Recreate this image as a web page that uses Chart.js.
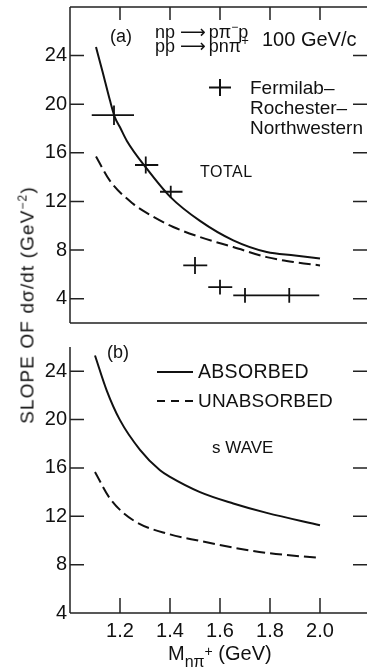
<!DOCTYPE html>
<html><head><meta charset="utf-8">
<script src="https://cdn.jsdelivr.net/npm/chart.js@4.4.1/dist/chart.umd.min.js"></script>
<style>
html,body{margin:0;padding:0;background:#fff;overflow:hidden;width:367px;height:672px;}
#wrap{position:relative;width:367px;height:672px;overflow:hidden;font-family:"Liberation Sans","DejaVu Sans",sans-serif;color:#111;}
.c{position:absolute;left:0;width:370px;}
.t{position:absolute;white-space:nowrap;line-height:1;}
.up{position:relative;}
svg{position:absolute;overflow:visible;}
</style></head><body><div id="wrap">
<div class="c" style="top:0;height:335px"><canvas id="ca" width="370" height="335"></canvas></div>
<div class="c" style="top:335px;height:337px"><canvas id="cb" width="370" height="337"></canvas></div>

<div class="t" style="left:110px;top:27px;font-size:18px;">(a)</div>
<div class="t" style="left:155px;top:23px;font-size:18px;">np <span style="letter-spacing:-2px">⟶</span> pπ<span class="up" style="font-size:12px;top:-7px">−</span>p</div>
<div class="t" style="left:155px;top:37px;font-size:18px;">pp <span style="letter-spacing:-2px">⟶</span> pnπ<span class="up" style="font-size:13px;top:-7px">+</span></div>
<div class="t" style="left:262px;top:29px;font-size:20px;">100 GeV/c</div>
<svg style="left:209px;top:79px" width="22" height="17"><line x1="0" y1="8.5" x2="22" y2="8.5" stroke="#111" stroke-width="2"/><line x1="11" y1="0" x2="11" y2="17" stroke="#111" stroke-width="2"/></svg>
<div class="t" style="left:250px;top:78px;font-size:19px;">Fermilab–</div>
<div class="t" style="left:250px;top:98px;font-size:19px;">Rochester–</div>
<div class="t" style="left:250px;top:118px;font-size:19px;">Northwestern</div>
<div class="t" style="left:200px;top:164px;font-size:16px;letter-spacing:0.5px;">TOTAL</div>

<div class="t" style="left:107px;top:343px;font-size:18px;">(b)</div>
<svg style="left:157px;top:372px" width="36" height="2"><line x1="0" y1="0" x2="36" y2="0" stroke="#111" stroke-width="2"/></svg>
<div class="t" style="left:198px;top:362px;font-size:19.5px;letter-spacing:0.3px;">ABSORBED</div>
<svg style="left:157px;top:401px" width="36" height="2"><line x1="0" y1="0" x2="36" y2="0" stroke="#111" stroke-width="2" stroke-dasharray="8,6"/></svg>
<div class="t" style="left:198px;top:391px;font-size:19px;letter-spacing:0.2px;">UNABSORBED</div>
<div class="t" style="left:212px;top:439px;font-size:17px;">s WAVE</div>

<div class="t" style="left:27px;top:305px;font-size:19px;letter-spacing:1.1px;transform:translate(-50%,-50%) rotate(-90deg);">SLOPE OF dσ/dt (GeV<span class="up" style="font-size:12px;top:-7px">−2</span>)</div>
<div class="t" style="left:168px;top:643px;font-size:20px;">M<span class="up" style="font-size:16px;top:7px;">nπ</span><span class="up" style="font-size:14px;top:-4px;">+</span> (GeV)</div>
</div>
<script>
const xTicks = [1.2, 1.4, 1.6, 1.8, 2.0];
const yTicksA = [4, 8, 12, 16, 20, 24];
const yTicksB = [4, 8, 12, 16, 20, 24];

// panel (a) TOTAL
const totalAbsM = [1.104, 1.13, 1.16, 1.18, 1.2, 1.227, 1.307, 1.40, 1.52, 1.653, 1.787, 1.90, 2.0];
const totalAbsSlope = [24.7, 22.7, 20.3, 18.9, 18.1, 17.0, 14.7, 12.4, 10.4, 8.8, 7.84, 7.56, 7.3];
const totalUnabsM = [1.104, 1.16, 1.253, 1.32, 1.413, 1.52, 1.653, 1.787, 1.90, 2.0];
const totalUnabsSlope = [15.7, 13.7, 11.8, 10.9, 9.9, 9.07, 8.25, 7.42, 7.0, 6.74];

// Fermilab-Rochester-Northwestern data
const dataM = [1.176, 1.303, 1.403, 1.50, 1.60, 1.70, 1.877];
const dataSlope = [19.1, 15.0, 12.8, 6.74, 4.95, 4.27, 4.27];
const dataMLo = [1.087, 1.26, 1.36, 1.453, 1.553, 1.653, 1.747];
const dataMHi = [1.256, 1.353, 1.45, 1.549, 1.649, 1.747, 1.997];
const dataErr = [0.8, 0.7, 0.5, 0.7, 0.6, 0.6, 0.6];

// panel (b) s WAVE
const sAbsM = [1.1, 1.147, 1.2, 1.28, 1.36, 1.4, 1.52, 1.653, 1.787, 2.0];
const sAbsSlope = [25.3, 22.4, 19.95, 17.5, 15.8, 15.26, 14.0, 13.06, 12.28, 11.26];
const sUnabsM = [1.1, 1.16, 1.253, 1.4, 1.52, 1.653, 1.787, 2.0];
const sUnabsSlope = [15.67, 13.47, 11.67, 10.5, 9.96, 9.41, 8.97, 8.55];

const FONT = '"Liberation Sans","DejaVu Sans",sans-serif';
const INK = '#111';
const pts = (xs, ys) => xs.map((x, i) => ({x, y: ys[i]}));

function lineDs(xs, ys, dashed) {
  return {data: pts(xs, ys), borderColor: INK, borderWidth: 2, pointRadius: 0,
    cubicInterpolationMode: 'monotone', borderDash: dashed ? [12, 5] : [], fill: false};
}

function frame(opts) {
  return {
    id: 'frame' + opts.id,
    afterDraw(chart) {
      const ctx = chart.ctx, a = chart.chartArea, xs = chart.scales.x, ys = chart.scales.y;
      const T = 14;
      ctx.save();
      ctx.strokeStyle = '#222'; ctx.lineWidth = 1.5; ctx.lineCap = 'butt';
      ctx.beginPath();
      ctx.moveTo(a.left, a.top); ctx.lineTo(a.left, a.bottom);
      ctx.moveTo(a.left, a.bottom); ctx.lineTo(a.right, a.bottom);
      if (opts.top) { ctx.moveTo(a.left, a.top); ctx.lineTo(a.right, a.top); }
      opts.yt.forEach(v => {
        const y = ys.getPixelForValue(v);
        if (y < a.bottom - 2) { ctx.moveTo(a.left, y); ctx.lineTo(a.left + T, y); }
        if (y < a.bottom - 2) { ctx.moveTo(a.right - 3 - T, y); ctx.lineTo(a.right - 3, y); }
      });
      xTicks.forEach(v => {
        const x = xs.getPixelForValue(v);
        if (opts.top) { ctx.moveTo(x, a.top); ctx.lineTo(x, a.top + 13); }
        if (opts.bottom) { ctx.moveTo(x, a.bottom); ctx.lineTo(x, a.bottom - 15); }
      });
      ctx.stroke();
      ctx.restore();
    }
  };
}

const crosses = {
  id: 'crosses',
  afterDatasetsDraw(chart) {
    const ctx = chart.ctx, xs = chart.scales.x, ys = chart.scales.y;
    ctx.save();
    ctx.strokeStyle = INK; ctx.lineWidth = 1.8;
    ctx.beginPath();
    dataM.forEach((m, i) => {
      const y = ys.getPixelForValue(dataSlope[i]);
      const x = xs.getPixelForValue(m);
      ctx.moveTo(xs.getPixelForValue(dataMLo[i]), y);
      ctx.lineTo(xs.getPixelForValue(dataMHi[i]), y);
      ctx.moveTo(x, ys.getPixelForValue(dataSlope[i] + dataErr[i]));
      ctx.lineTo(x, ys.getPixelForValue(dataSlope[i] - dataErr[i]));
    });
    ctx.stroke();
    ctx.restore();
  }
};

function yScale(min, max, ticks) {
  return {
    type: 'linear', min, max,
    afterBuildTicks: s => { s.ticks = ticks.map(v => ({value: v})); },
    afterFit: s => { s.width = 70; s.paddingTop = 0; s.paddingBottom = 0; },
    grid: {display: false, drawTicks: false},
    border: {display: false},
    ticks: {color: INK, padding: 3, font: {family: FONT, size: 20}}
  };
}

new Chart(document.getElementById('ca'), {
  type: 'line',
  data: {datasets: [lineDs(totalAbsM, totalAbsSlope, false), lineDs(totalUnabsM, totalUnabsSlope, true)]},
  options: {
    responsive: false, animation: false,
    layout: {padding: {top: 7, bottom: 12, left: 0, right: 0}},
    plugins: {legend: {display: false}, tooltip: {enabled: false}},
    scales: {
      x: {type: 'linear', min: 1.0, max: 2.2, display: false},
      y: yScale(2, 28, yTicksA)
    }
  },
  plugins: [frame({id: 'a', top: true, bottom: false, yt: yTicksA}), crosses]
});

new Chart(document.getElementById('cb'), {
  type: 'line',
  data: {datasets: [lineDs(sAbsM, sAbsSlope, false), lineDs(sUnabsM, sUnabsSlope, true)]},
  options: {
    responsive: false, animation: false,
    layout: {padding: {top: 12, bottom: 0, left: 0, right: 0}},
    plugins: {legend: {display: false}, tooltip: {enabled: false}},
    scales: {
      x: {type: 'linear', min: 1.0, max: 2.2,
        afterBuildTicks: s => { s.ticks = xTicks.map(v => ({value: v})); },
        afterFit: s => { s.height = 59; s.paddingLeft = 0; s.paddingRight = 0; },
        grid: {display: false, drawTicks: false},
        border: {display: false},
        ticks: {color: INK, padding: 6, maxRotation: 0, font: {family: FONT, size: 20},
          callback: v => v.toFixed(1)}
      },
      y: yScale(4, 26, yTicksB)
    }
  },
  plugins: [frame({id: 'b', top: false, bottom: true, yt: yTicksB})]
});
</script>
</body></html>
